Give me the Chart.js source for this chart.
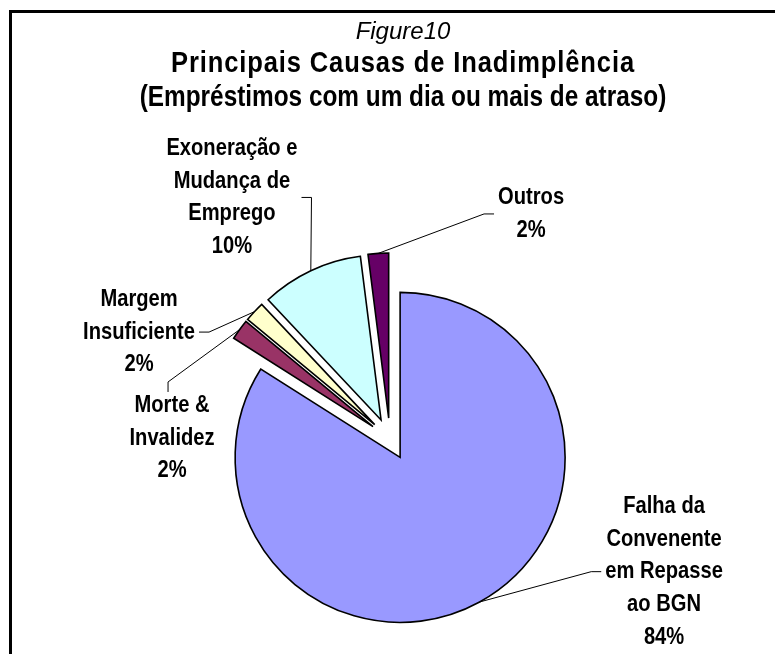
<!DOCTYPE html>
<html>
<head>
<meta charset="utf-8">
<script src="https://cdn.jsdelivr.net/npm/chart.js@4.4.0/dist/chart.umd.min.js"></script>
<style>
  body { margin: 0; background: #fff; }
  #wrap { position: relative; width: 775px; height: 654px; overflow: hidden; background: #fff; }
  #frame { position: absolute; left: 9px; top: 10px; width: 900px; height: 800px;
           border-left: 3px solid #000; border-top: 3px solid #000; }
  #chart { position: absolute; left: 0; top: 0; }
  .ttl { position: absolute; left: 0; width: 806px; text-align: center; color: #000;
         white-space: nowrap; transform-origin: 403px 50%; }
  #fig { top: 17px; font: italic 24px/28px "Liberation Sans", Arial, sans-serif; }
  #l1, #l2 { font: bold 29px/34px "Liberation Sans", Arial, sans-serif; }
  #l1 { top: 45px; transform: scaleX(0.88); letter-spacing: 1px; }
  #l2 { top: 79px; transform: scaleX(0.84); }
</style>
</head>
<body>
<div id="wrap">
  <div id="frame"></div>
  <canvas id="chart" width="775" height="654"></canvas>
  <div class="ttl" id="fig">Figure10</div>
  <div class="ttl" id="l1">Principais Causas de Inadimplência</div>
  <div class="ttl" id="l2">(Empréstimos com um dia ou mais de atraso)</div>
</div>
<script>
// dados
const categories = ['Falha da Convenente em Repasse ao BGN', 'Morte & Invalidez', 'Margem Insuficiente',
                    'Exoneração e Mudança de Emprego', 'Outros'];
const shares = [84, 2, 2, 10, 2];
const labelLines = [
    ['Falha da', 'Convenente', 'em Repasse', 'ao BGN'],
    ['Morte &', 'Invalidez'],
    ['Margem', 'Insuficiente'],
    ['Exoneração e', 'Mudança de', 'Emprego'],
    ['Outros']
];

// estilo
const colors = ['#9999FF', '#993366', '#FFFFCC', '#CCFFFF', '#660066'];
const EXPLODE = 21;
const LABEL_FONT = 'bold 24px "Liberation Sans", Arial, sans-serif';
const SQUEEZE = 0.84;   // fonte "narrow"
const LINE_H = 32.7;
// posição dos rótulos em raios a partir do centro da pizza, e lado da linha guia
const labelPlace = [
    { dx: 1.661, dy: 0.804, side: 'left' },
    { dx: -1.321, dy: -0.006, side: 'top' },
    { dx: -1.521, dy: -0.648, side: 'right' },
    { dx: -0.958, dy: -1.464, side: 'right' },
    { dx: 0.855, dy: -1.364, side: 'left' }
];

// fatias destacadas (explodidas) desenhadas pelo próprio elemento arc
const explodePlugin = {
    id: 'explode',
    beforeDatasetDraw(chart, args) {
        const ctx = chart.ctx;
        args.meta.data.forEach(arc => {
            const mid = (arc.startAngle + arc.endAngle) / 2;
            ctx.save();
            ctx.translate(Math.cos(mid) * EXPLODE, Math.sin(mid) * EXPLODE);
            arc.draw(ctx);
            ctx.restore();
        });
        return false;
    }
};

function narrowText(ctx, text, x, y) {
    ctx.save();
    ctx.translate(x, y);
    ctx.scale(SQUEEZE, 1);
    ctx.fillText(text, 0, 0);
    ctx.restore();
}

// rótulos com linhas guia
const labelPlugin = {
    id: 'pieLabels',
    afterDatasetsDraw(chart) {
        const ctx = chart.ctx;
        const arcs = chart.getDatasetMeta(0).data;
        ctx.save();
        ctx.font = LABEL_FONT;
        ctx.textAlign = 'center';
        ctx.textBaseline = 'middle';
        arcs.forEach((arc, i) => {
            const R = arc.outerRadius;
            const p = labelPlace[i];
            const lines = labelLines[i].concat([shares[i] + '%']);
            const cx = arc.x + p.dx * R;
            const cy = arc.y + p.dy * R;
            const halfW = Math.max(...lines.map(l => ctx.measureText(l).width)) * SQUEEZE / 2 + 4;
            const halfH = lines.length * LINE_H / 2;

            // ponto na borda da fatia
            const mid = (arc.startAngle + arc.endAngle) / 2;
            const tx = arc.x + Math.cos(mid) * (EXPLODE + R);
            const ty = arc.y + Math.sin(mid) * (EXPLODE + R);
            let sx, sy, ex, ey;
            if (p.side === 'left') { sx = cx - halfW; sy = cy; ex = sx - 10; ey = sy; }
            else if (p.side === 'right') { sx = cx + halfW; sy = cy; ex = sx + 10; ey = sy; }
            else { sx = cx - 4; sy = cy - halfH + 3; ex = sx; ey = sy - 10; }
            ctx.strokeStyle = '#000';
            ctx.lineWidth = 1;
            ctx.beginPath();
            ctx.moveTo(sx, sy);
            ctx.lineTo(ex, ey);
            ctx.lineTo(tx, ty);
            ctx.stroke();

            ctx.fillStyle = '#000';
            lines.forEach((l, k) => {
                narrowText(ctx, l, cx, cy - halfH + LINE_H * (k + 0.5));
            });
        });
        ctx.restore();
    }
};

new Chart(document.getElementById('chart'), {
    type: 'pie',
    data: {
        labels: categories,
        datasets: [{
            data: shares,
            backgroundColor: colors,
            borderColor: '#000',
            borderWidth: 1.6,
            hoverBorderWidth: 1.6,
            borderJoinStyle: 'miter',
            offset: 0,
            hoverOffset: 0
        }]
    },
    options: {
        responsive: false,
        animation: false,
        radius: 165,
        layout: { padding: { left: 5, right: 0, top: 224, bottom: 0 } },
        plugins: {
            legend: { display: false },
            title: { display: false },
            tooltip: { enabled: false }
        },
        events: []
    },
    plugins: [explodePlugin, labelPlugin]
});
</script>
</body>
</html>
